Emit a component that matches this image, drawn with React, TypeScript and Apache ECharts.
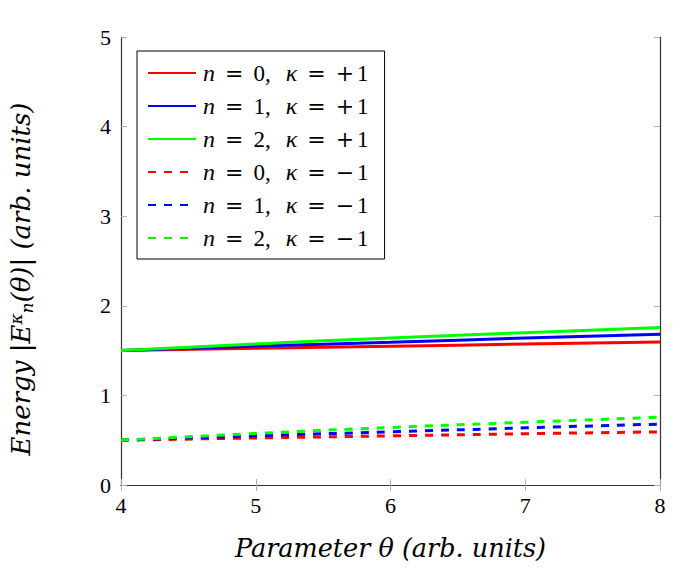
import React, { useEffect, useRef } from "react";
import * as echarts from "echarts";

const theta = [4, 5, 6, 7, 8];
const n0Plus = [1.5, 1.525, 1.549, 1.573, 1.597];
const n1Plus = [1.5, 1.55, 1.593, 1.64, 1.683];
const n2Plus = [1.5, 1.575, 1.642, 1.7, 1.757];
const n0Minus = [0.5, 0.525, 0.549, 0.572, 0.593];
const n1Minus = [0.5, 0.55, 0.593, 0.638, 0.68];
const n2Minus = [0.5, 0.575, 0.642, 0.7, 0.757];

const seriesNames = [
  "n = 0, κ = +1",
  "n = 1, κ = +1",
  "n = 2, κ = +1",
  "n = 0, κ = −1",
  "n = 1, κ = −1",
  "n = 2, κ = −1",
];
const seriesValues = [n0Plus, n1Plus, n2Plus, n0Minus, n1Minus, n2Minus];
const seriesColors = ["#ff0000", "#0000ff", "#00ff00", "#ff0000", "#0000ff", "#00ff00"];
const seriesDashed = [false, false, false, true, true, true];

const FONT = "Liberation Serif";
const DFONT = "DejaVu Serif";

export default function App() {
  const ref = useRef<HTMLDivElement>(null);
  useEffect(() => {
    if (!ref.current) return;
    const chart = echarts.init(ref.current, undefined, { renderer: "svg" });
    const frame = { show: true, lineStyle: { color: "#333", width: 1.2 } };
    const tick = { show: true, inside: true, length: 6, lineStyle: { color: "#b0b0b0", width: 1 } };
    const series = seriesNames.map((name, i) => ({
      name,
      type: "line",
      data: theta.map((t, j) => [t, seriesValues[i][j]]),
      symbol: "none",
      smooth: true,
      lineStyle: {
        color: seriesColors[i],
        width: 3,
        type: seriesDashed[i] ? [8, 8] : "solid",
      },
      itemStyle: { color: seriesColors[i] },
      z: seriesDashed[i] ? 2 : 3,
    }));
    chart.setOption({
      animation: false,
      backgroundColor: "#ffffff",
      grid: { left: 121, right: 21, top: 37, bottom: 91, show: false, outerBoundsMode: "none", containLabel: false },
      legend: {
        orient: "vertical",
        left: 137,
        top: 51,
        itemWidth: 48,
        itemHeight: 14,
        itemGap: 9,
        padding: [10, 16, 9, 10],
        borderColor: "#000",
        borderWidth: 1,
        backgroundColor: "#fff",
        itemStyle: { opacity: 0 },
        data: seriesNames,
        formatter: (name: string) => {
          const parts = name.split(", ");
          const a = parts[0].replace("n =", "").trim();
          const b = parts[1].replace("κ =", "").trim();
          const sign = b.charAt(0);
          const num = b.slice(1);
          return `{i|n}{op|=}{r|${a},}{k|κ}{op|=}{sg|${sign}}{r|${num}}`;
        },
        textStyle: {
          fontFamily: FONT,
          fontSize: 23,
          color: "#000",
          lineHeight: 24,
          rich: {
            i: { fontFamily: FONT, fontStyle: "italic", fontSize: 24, color: "#000", padding: [0, 0, 0, 2] },
            k: { fontFamily: FONT, fontStyle: "italic", fontSize: 24, color: "#000", padding: [0, 0, 0, 15] },
            op: { fontFamily: DFONT, fontSize: 22, color: "#000", padding: [0, 10, 0, 10] },
            sg: { fontFamily: DFONT, fontSize: 22, color: "#000", padding: [0, 3, 0, 0] },
            r: { fontFamily: FONT, fontSize: 23, color: "#000" },
          },
        },
      },
      xAxis: [
        {
          type: "value",
          min: 4,
          max: 8,
          interval: 1,
          position: "bottom",
          axisLine: frame,
          axisTick: tick,
          splitLine: { show: false },
          axisLabel: { fontFamily: FONT, fontSize: 22, color: "#000", margin: 9 },
          name: "Parameter θ (arb. units)",
          nameLocation: "middle",
          nameGap: 50,
          nameTextStyle: { fontFamily: DFONT, fontStyle: "italic", fontSize: 25.5, color: "#000" },
        },
        {
          type: "value",
          min: 4,
          max: 8,
          interval: 1,
          position: "top",
          axisLine: frame,
          axisTick: tick,
          splitLine: { show: false },
          axisLabel: { show: false },
        },
      ],
      yAxis: [
        {
          type: "value",
          min: 0,
          max: 5,
          interval: 1,
          position: "left",
          axisLine: frame,
          axisTick: tick,
          splitLine: { show: false },
          axisLabel: { fontFamily: FONT, fontSize: 22, color: "#000", margin: 10 },
          name: "{i|Energy |E}{sup|κ}{sub|n}{i|(θ)| (arb. units)}",
          nameLocation: "middle",
          nameGap: 86,
          nameTextStyle: {
            fontFamily: DFONT,
            fontSize: 26,
            color: "#000",
            padding: [0, 36, 0, 0],
            rich: {
              i: { fontFamily: DFONT, fontStyle: "italic", fontSize: 26, color: "#000", lineHeight: 28, verticalAlign: "middle" },
              sup: { fontFamily: DFONT, fontStyle: "italic", fontSize: 17, color: "#000", lineHeight: 28, verticalAlign: "top" },
              sub: { fontFamily: DFONT, fontStyle: "italic", fontSize: 17, color: "#000", lineHeight: 28, verticalAlign: "bottom" },
            },
          },
        },
        {
          type: "value",
          min: 0,
          max: 5,
          interval: 1,
          position: "right",
          axisLine: frame,
          axisTick: tick,
          splitLine: { show: false },
          axisLabel: { show: false },
        },
      ],
      series,
    });
    return () => chart.dispose();
  }, []);
  return (
    <div
      ref={ref}
      style={{ position: "fixed", left: 0, top: 0, width: 681, height: 576, background: "#fff" }}
    />
  );
}
